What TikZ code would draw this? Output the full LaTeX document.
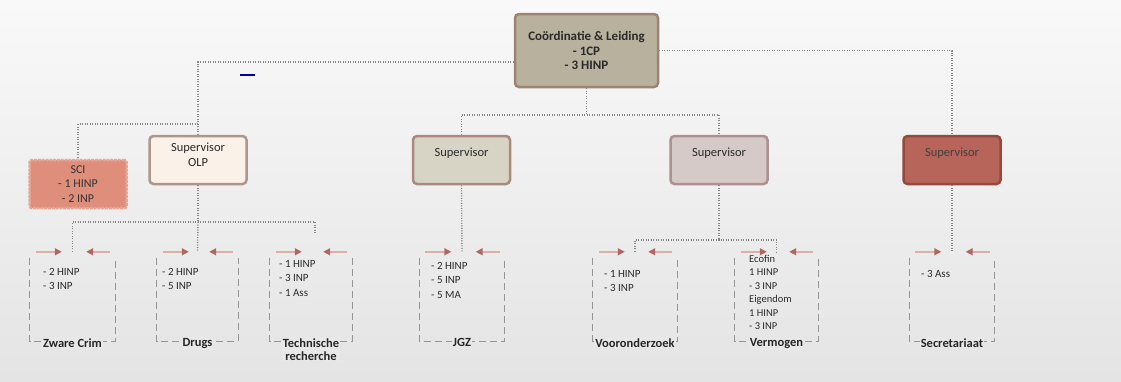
\documentclass[tikz,border=0pt]{standalone}
\usepackage{fontspec}
\setmainfont{Carlito}
\usetikzlibrary{arrows.meta}
\definecolor{bgtop}{HTML}{F9F9F9}
\definecolor{bgbot}{HTML}{E4E4E4}
\definecolor{lblbg}{HTML}{E8E8E8}
\definecolor{connc}{HTML}{858585}
\definecolor{topfill}{HTML}{B8B19D}
\definecolor{topdraw}{HTML}{9E8272}
\definecolor{olpfill}{HTML}{FAF1E8}
\definecolor{olpdraw}{HTML}{AE968C}
\definecolor{scifill}{HTML}{DE8E7A}
\definecolor{scidraw}{HTML}{E8A594}
\definecolor{jfill}{HTML}{D7D4C6}
\definecolor{jdraw}{HTML}{AA8A7C}
\definecolor{vfill}{HTML}{D5CAC7}
\definecolor{vdraw}{HTML}{AE9090}
\definecolor{sfill}{HTML}{B7645A}
\definecolor{sdraw}{HTML}{98493D}
\definecolor{brcol}{HTML}{959595}
\definecolor{arrred}{HTML}{B0685E}
\definecolor{arrlight}{HTML}{D8B0A8}
\definecolor{txt}{HTML}{2A2A2A}
\newcommand\mkbracket[1]{%
  \draw[brside] ([yshift=-6pt]#1.north west) -- (#1.south west) -- (#1.south east) -- ([yshift=-6pt]#1.north east);
  \draw[brarrow] ([xshift=6pt]#1.north west) -- ([xshift=32pt]#1.north west);
  \draw[brarrow] ([xshift=-5pt]#1.north east) -- ([xshift=-29pt]#1.north east);
}
\begin{document}
\begin{tikzpicture}[x=1pt,y=-1pt,
  conn/.style={draw=connc, line width=1.4pt, dash pattern=on 1pt off 1.5pt},
  boxbase/.style={rounded corners=4pt, line width=2.5pt, inner sep=2pt},
  topbox/.style={boxbase, fill=topfill, draw=topdraw, minimum width=143pt, minimum height=73pt, text=txt,
     align=center, font=\fontsize{13}{14.5}\selectfont\bfseries},
  supbox/.style={boxbase, minimum width=97pt, minimum height=48pt},
  suptext/.style={align=center, text=txt, font=\fontsize{12.5}{15}\selectfont, inner sep=0pt},
  brbox/.style={minimum height=89pt, inner sep=0pt},
  brside/.style={draw=brcol, line width=1.3pt, dash pattern=on 7pt off 4pt},
  brarrow/.style={draw=arrlight, line width=1.4pt, -{Triangle[length=7pt,width=7pt,color=arrred]}},
  brtext/.style={anchor=north west, align=left, text=txt, font=\fontsize{11}{14.5}\selectfont, inner sep=0pt},
  brlabel/.style={anchor=north, fill=lblbg, align=center, text=black!85, inner sep=1pt,
     font=\fontsize{12.5}{13}\selectfont\bfseries}
]
\shade[top color=bgtop, bottom color=bgbot] (0,0) rectangle (1121,381);
\useasboundingbox (0,0) rectangle (1121,381);

% top
\node[topbox] (top) at (586.5,50.5) {Coördinatie \& Leiding\\- 1CP\\- 3 HINP};

% supervisors
\node[supbox, fill=olpfill, draw=olpdraw] (olp) at (198,160) {};
\node[suptext] (olpT) at (198,155) {Supervisor\\OLP};
\node[boxbase, fill=scifill, draw=scidraw, dash pattern=on 3pt off 0.8pt, minimum width=97pt, minimum height=48pt,
      rounded corners=2pt, align=center, text=black!80, font=\fontsize{12}{14.5}\selectfont] (sci) at (78,184) {SCI\\- 1 HINP\\- 2 INP};
\node[supbox, fill=jfill, draw=jdraw] (supJ) at (461.5,160) {};
\node[suptext] (supJT) at (461.5,153) {Supervisor};
\node[supbox, fill=vfill, draw=vdraw] (supV) at (719,160) {};
\node[suptext] (supVT) at (719,153) {Supervisor};
\node[supbox, fill=sfill, draw=sdraw] (supS) at (952,160) {};
\node[suptext, text=black!75] (supST) at (952,153) {Supervisor};

% blue mark
\draw[blue!65!black, line width=2.5pt] (240,75) -- (255,75);

% coordinates for connectors
\coordinate (mt) at (586.5,115);
\coordinate (ms) at (198,124);
\coordinate (mo) at (198,222);
\coordinate (mv) at (719,240);
\coordinate (trend) at (315,233);

% bracket boxes
\node[brbox, minimum width=85pt] (zc) at (72.5,296.5) {};
\node[brbox, minimum width=81pt] (dr) at (197.5,296.5) {};
\node[brbox, minimum width=82pt] (tr) at (311,296.5) {};
\node[brbox, minimum width=85pt] (jgz) at (462,296.5) {};
\node[brbox, minimum width=84pt] (vo) at (635,296.5) {};
\node[brbox, minimum width=83pt] (ve) at (776.5,296.5) {};
\node[brbox, minimum width=85pt] (se) at (952,296.5) {};

% connectors
\draw[conn] ([yshift=-11.5pt]top.west) -| (olp.north);
\draw[conn] (top.east) -| (supS.north);
\draw[conn] (top.south) -- (mt);
\draw[conn] (supJ.north) |- (mt) -| (supV.north);
\draw[conn] (ms) -| (sci.north);
\draw[conn] (olp.south) -- (mo);
\draw[conn] (zc.north) |- (mo) -| (trend);
\draw[conn] (mo) -- (dr.north);
\draw[conn] (supJ.south) -- (jgz.north);
\draw[conn] (supV.south) -- (mv);
\draw[conn] (vo.north) |- (mv) -| (ve.north);
\draw[conn] (supS.south) -- (se.north);

% brackets
\mkbracket{zc}
\mkbracket{dr}
\mkbracket{tr}
\mkbracket{jgz}
\mkbracket{vo}
\mkbracket{ve}
\mkbracket{se}

% texts
\node[brtext] (zcT) at (43,268) {- 2 HINP\\- 3 INP};
\node[brtext] (drT) at (162,268) {- 2 HINP\\- 5 INP};
\node[brtext] (trT) at (279,260) {- 1 HINP\\- 3 INP\\- 1 Ass};
\node[brtext] (jgzT) at (431,262) {- 2 HINP\\- 5 INP\\- 5 MA};
\node[brtext] (voT) at (604,270) {- 1 HINP\\- 3 INP};
\node[brtext, font=\fontsize{10.5}{13.5}\selectfont] (veT) at (749,255) {Ecofin\\1 HINP\\- 3 INP\\Eigendom\\1 HINP\\- 3 INP};
\node[brtext] (seT) at (921,270) {- 3 Ass};

% labels
\node[brlabel] (zcL) at ([yshift=4pt]zc.south) {Zware Crim};
\node[brlabel] (drL) at ([yshift=4pt]dr.south) {Drugs};
\node[brlabel] (trL) at ([yshift=4pt]tr.south) {Technische\\recherche};
\node[brlabel] (jgzL) at ([yshift=4pt]jgz.south) {JGZ};
\node[brlabel] (voL) at ([yshift=4pt]vo.south) {Vooronderzoek};
\node[brlabel] (veL) at ([yshift=4pt]ve.south) {Vermogen};
\node[brlabel] (seL) at ([yshift=4pt]se.south) {Secretariaat};
\end{tikzpicture}
\end{document}
